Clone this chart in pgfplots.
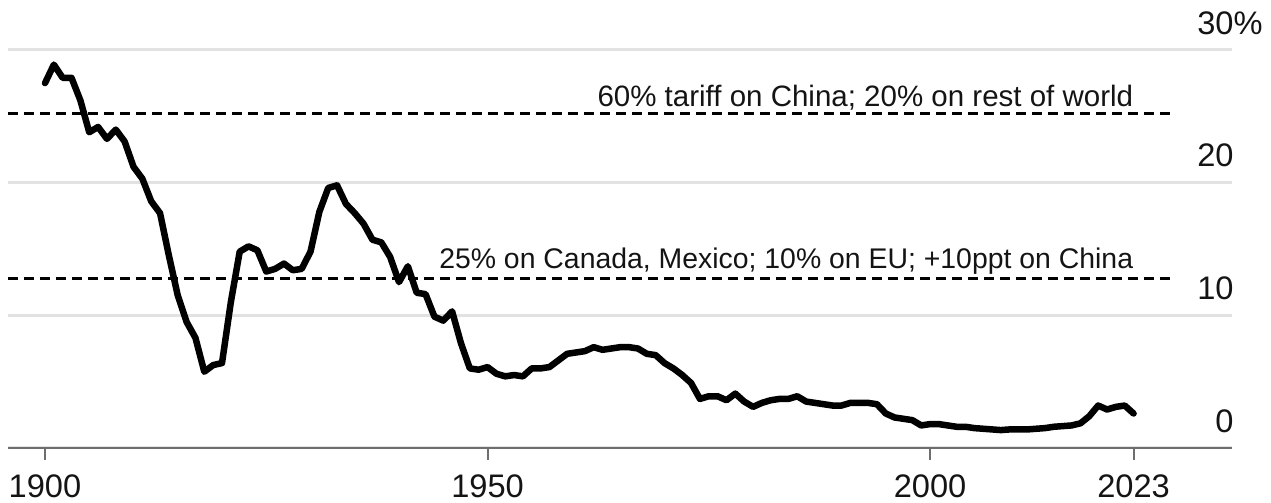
\documentclass[border=0pt]{standalone}
\usepackage{fontspec}
\setmainfont{Liberation Sans}
\usepackage{pgfplots}
\pgfplotsset{compat=1.18}
\definecolor{gridc}{RGB}{226,226,226}
\definecolor{axc}{RGB}{110,110,110}
\definecolor{txt}{RGB}{20,20,20}
\begin{document}
\fontsize{14.75}{17}\selectfont
\begin{tikzpicture}
\path[use as bounding box] (0,0) rectangle (635.5pt,251.5pt);
\begin{axis}[
  at={(4pt,27.5pt)}, anchor=south west,
  scale only axis, width=612pt, height=199pt,
  xmin=1895.82, xmax=2034.12, ymin=0, ymax=30,
  axis x line*=bottom, axis y line*=right,
  y axis line style={draw=none},
  x axis line style={axc, line width=1.25pt, -},
  xtick={1900,1950,2000,2023},
  xticklabels={1900,1950,2000,2023},
  tick align=outside, major tick length=6pt,
  xtick style={axc, line width=1pt},
  ytick={0,10,20,30},
  yticklabels={0,10,20,30\rlap{\%}},
  ytick style={draw=none},
  ymajorgrids, grid style={gridc, line width=1.5pt},
  tick label style={font=\fontsize{16.3}{18}\selectfont},
  yticklabel style={anchor=south east, inner sep=0pt, yshift=7.5pt, xshift=-5pt, text=txt},
  xticklabel style={anchor=north, inner sep=0pt, yshift=-7.3pt, text=txt},
  clip=false,
]
\addplot[black, line width=1.5pt, dash pattern=on 5pt off 3pt] coordinates {(1895.82,25.2) (2027.1,25.2)};
\addplot[black, line width=1.5pt, dash pattern=on 5pt off 3pt] coordinates {(1895.82,12.8) (2027.1,12.8)};
\node[anchor=base east, inner sep=0pt, text=txt] at (axis cs:2023,25.2) [yshift=3.75pt] {60\% tariff on China; 20\% on rest of world};
\node[anchor=base east, inner sep=0pt, text=txt, font=\fontsize{14.2}{17}\selectfont] at (axis cs:2023,12.8) [yshift=5pt] {25\% on Canada, Mexico; 10\% on EU; +10ppt on China};
\addplot[black, line width=3.25pt, line join=round, line cap=round] coordinates {
(1900,27.5) (1901,28.9) (1902,27.9) (1903,27.9) (1904,26.2) (1905,23.8) (1906,24.2) (1907,23.3) (1908,24.0) (1909,23.1)
(1910,21.2) (1911,20.3) (1912,18.6) (1913,17.7) (1914,14.5) (1915,11.5) (1916,9.5) (1917,8.3) (1918,5.75) (1919,6.25)
(1920,6.4) (1921,11.0) (1922,14.8) (1923,15.2) (1924,14.9) (1925,13.3) (1926,13.5) (1927,13.9) (1928,13.4) (1929,13.5)
(1930,14.8) (1931,17.8) (1932,19.6) (1933,19.8) (1934,18.4) (1935,17.7) (1936,16.9) (1937,15.7) (1938,15.5) (1939,14.4)
(1940,12.5) (1941,13.7) (1942,11.7) (1943,11.6) (1944,9.9) (1945,9.6) (1946,10.3) (1947,7.9) (1948,6.0) (1949,5.9)
(1950,6.1) (1951,5.6) (1952,5.4) (1953,5.5) (1954,5.4) (1955,6.0) (1956,6.0) (1957,6.1) (1958,6.6) (1959,7.1)
(1960,7.2) (1961,7.3) (1962,7.6) (1963,7.4) (1964,7.5) (1965,7.6) (1966,7.6) (1967,7.5) (1968,7.1) (1969,7.0)
(1970,6.4) (1971,6.0) (1972,5.5) (1973,4.9) (1974,3.7) (1975,3.9) (1976,3.9) (1977,3.6) (1978,4.1) (1979,3.5)
(1980,3.1) (1981,3.4) (1982,3.6) (1983,3.7) (1984,3.7) (1985,3.9) (1986,3.5) (1987,3.4) (1988,3.3) (1989,3.2)
(1990,3.2) (1991,3.4) (1992,3.4) (1993,3.4) (1994,3.3) (1995,2.6) (1996,2.3) (1997,2.2) (1998,2.1) (1999,1.7)
(2000,1.8) (2001,1.8) (2002,1.7) (2003,1.6) (2004,1.6) (2005,1.5) (2006,1.45) (2007,1.4) (2008,1.35) (2009,1.4)
(2010,1.4) (2011,1.4) (2012,1.45) (2013,1.5) (2014,1.6) (2015,1.65) (2016,1.7) (2017,1.86) (2018,2.4) (2019,3.2)
(2020,2.9) (2021,3.1) (2022,3.2) (2023,2.6)
};
\end{axis}
\end{tikzpicture}
\end{document}
